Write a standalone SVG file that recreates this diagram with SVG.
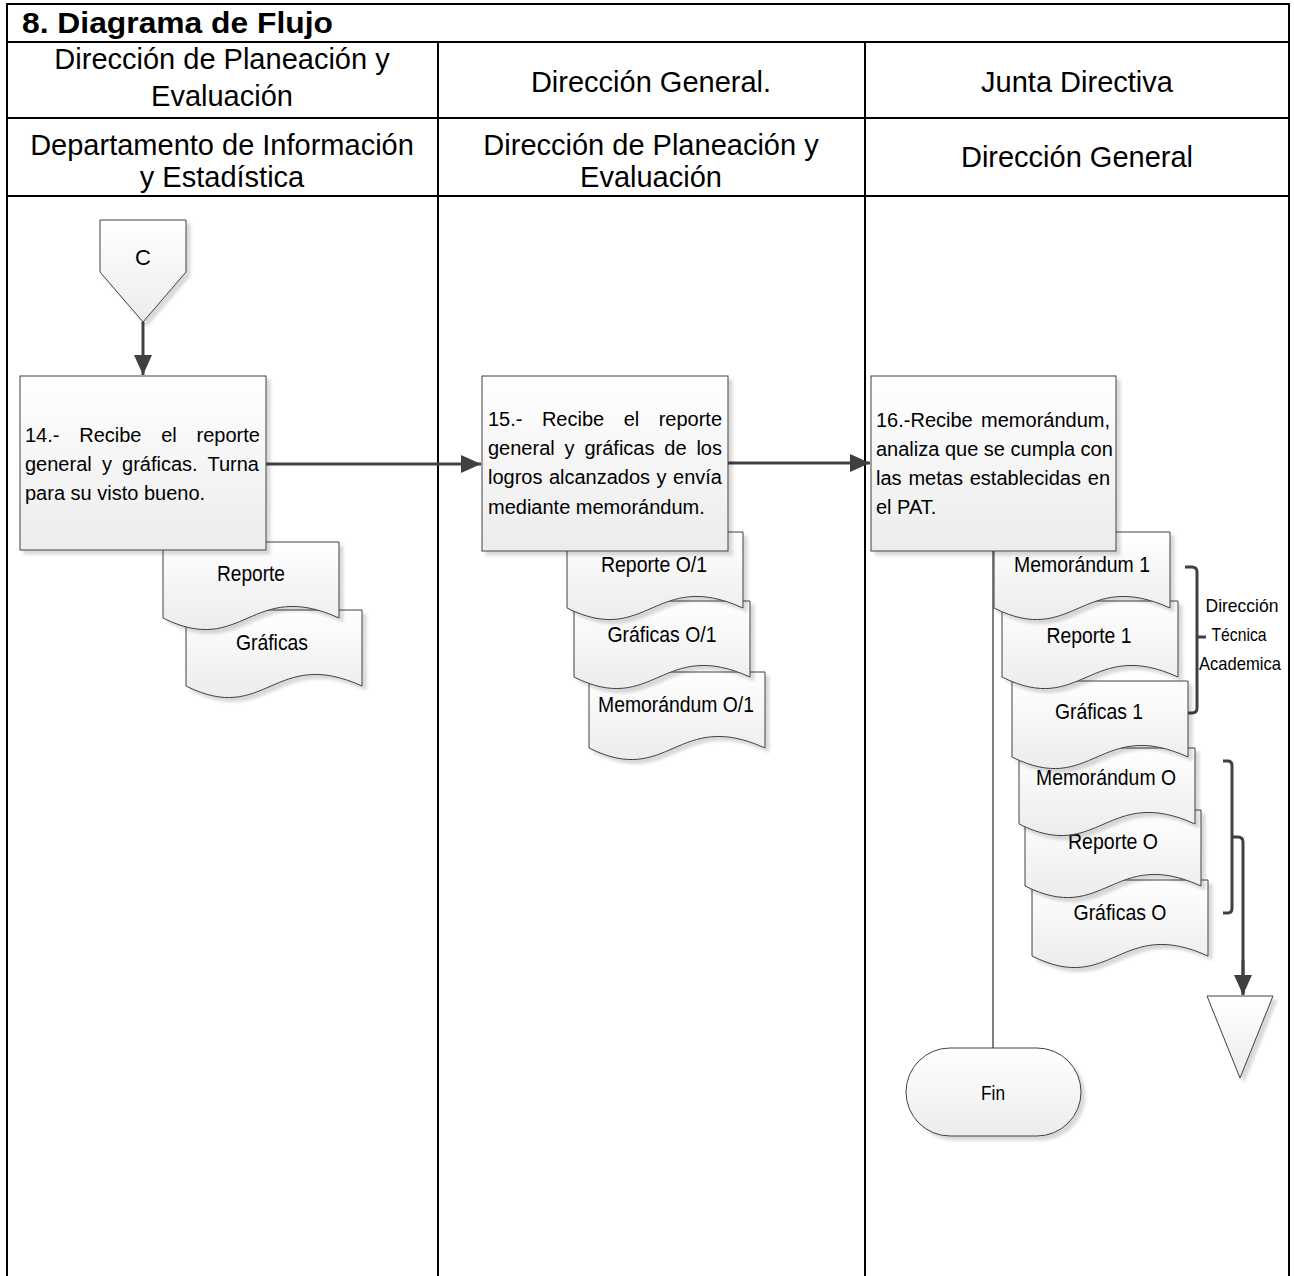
<svg xmlns="http://www.w3.org/2000/svg" xmlns:xlink="http://www.w3.org/1999/xlink" width="1294" height="1276" viewBox="0 0 1294 1276">
<style>
.frame{stroke:#000;stroke-width:2;fill:none}
.hdr{font-family:"Liberation Sans",Arial,sans-serif;font-size:29px;fill:#000;text-anchor:middle}
.title{font-family:"Liberation Sans",Arial,sans-serif;font-size:29px;font-weight:bold;fill:#000}
.shape{fill:url(#grad);stroke:#404040;stroke-width:1;filter:url(#shadow)}
.body{font-family:"Liberation Sans",Arial,sans-serif;font-size:20px;fill:#000}
.lbl{font-family:"Liberation Sans",Arial,sans-serif;font-size:21.5px;fill:#000;text-anchor:middle}
.cal{font-family:"Liberation Sans",Arial,sans-serif;font-size:19px;fill:#000;text-anchor:middle}
.conn{stroke:#404040;stroke-width:3;fill:none}
.thin{stroke:#000;stroke-width:1;fill:none}
.brace{stroke:#404040;stroke-width:3;fill:none;stroke-linejoin:round}
</style>
<defs>
<linearGradient id="grad" x1="0" y1="0" x2="0" y2="1">
<stop offset="0" stop-color="#ffffff"/>
<stop offset="1" stop-color="#ececec"/>
</linearGradient>
<filter id="shadow" x="-10%" y="-10%" width="130%" height="130%">
<feDropShadow dx="4" dy="4" stdDeviation="1.5" flood-color="#000" flood-opacity="0.15"/>
</filter>
<marker id="arr" markerUnits="userSpaceOnUse" markerWidth="20" markerHeight="18" refX="20" refY="9" orient="auto">
<path d="M0,0 L20,9 L0,18 Z" fill="#404040"/>
</marker>
<path id="doc" d="M0,0 H176 V76 C88,36 80,116 0,76 Z"/>
</defs>
<rect width="1294" height="1276" fill="#fff"/>
<g id="table">
<path class="frame" d="M7,1276 V4 H1289 V1276 M7,42 H1289 M7,118 H1289 M7,196 H1289 M438,42 V1276 M865,42 V1276"/>
<text class="title" x="22" y="33" textLength="311" lengthAdjust="spacingAndGlyphs">8. Diagrama de Flujo</text>
<text class="hdr" x="222" y="69">Dirección de Planeación y</text>
<text class="hdr" x="222" y="106">Evaluación</text>
<text class="hdr" x="651" y="92">Dirección General.</text>
<text class="hdr" x="1077" y="92">Junta Directiva</text>
<text class="hdr" x="222" y="155">Departamento de Información</text>
<text class="hdr" x="222" y="187">y Estadística</text>
<text class="hdr" x="651" y="155">Dirección de Planeación y</text>
<text class="hdr" x="651" y="187">Evaluación</text>
<text class="hdr" x="1077" y="167">Dirección General</text>
</g>
<g id="connectors">
<line class="conn" x1="143" y1="322" x2="143" y2="375" marker-end="url(#arr)"/>
<line class="conn" x1="266" y1="464" x2="481" y2="464" marker-end="url(#arr)"/>
<line class="conn" x1="728" y1="463" x2="870" y2="463" marker-end="url(#arr)"/>
<line class="thin" x1="993" y1="551" x2="993" y2="1048"/>
<path class="brace" d="M1185,567 H1192 Q1197,567 1197,572 V708 Q1197,713 1192,713 H1185 M1197,637 H1206"/>
<path class="brace" d="M1223,761 H1228 Q1232,761 1232,766 V908 Q1232,913 1228,913 H1223 M1232,837 H1238 Q1243,837 1243,842 V994"/>
<line class="conn" x1="1243" y1="960" x2="1243" y2="995" marker-end="url(#arr)"/>
</g>
<g id="node-c">
<path class="shape" d="M100,220 H186 V272 L143,322 L100,272 Z"/>
<text class="lbl" x="143" y="265" style="font-size:22px">C</text>
</g>
<g id="docs-14">
<use href="#doc" x="186" y="610" class="shape"/>
<text class="lbl" x="272" y="650" textLength="72" lengthAdjust="spacingAndGlyphs">Gráficas</text>
<use href="#doc" x="163" y="542" class="shape"/>
<text class="lbl" x="251" y="581" textLength="68" lengthAdjust="spacingAndGlyphs">Reporte</text>
</g>
<g id="node-14">
<rect class="shape" x="20" y="376" width="246" height="174"/>
<text class="body" x="25" y="442" style="word-spacing:14.2px">14.- Recibe el reporte</text>
<text class="body" x="25" y="471" style="word-spacing:4.6px">general y gráficas. Turna</text>
<text class="body" x="25" y="500">para su visto bueno.</text>
</g>
<g id="docs-15">
<use href="#doc" x="589" y="672" class="shape"/>
<text class="lbl" x="676" y="712" textLength="156" lengthAdjust="spacingAndGlyphs">Memorándum O/1</text>
<use href="#doc" x="574" y="601" class="shape"/>
<text class="lbl" x="662" y="642" textLength="109" lengthAdjust="spacingAndGlyphs">Gráficas O/1</text>
<use href="#doc" x="567" y="532" class="shape"/>
<text class="lbl" x="654" y="572" textLength="106" lengthAdjust="spacingAndGlyphs">Reporte O/1</text>
</g>
<g id="node-15">
<rect class="shape" x="482" y="376" width="246" height="175"/>
<text class="body" x="488" y="426" style="word-spacing:13.9px">15.- Recibe el reporte</text>
<text class="body" x="488" y="455" style="word-spacing:4.3px">general y gráficas de los</text>
<text class="body" x="488" y="484" style="word-spacing:0.9px">logros alcanzados y envía</text>
<text class="body" x="488" y="514">mediante memorándum.</text>
</g>
<g id="docs-16">
<use href="#doc" x="1032" y="880" class="shape"/>
<text class="lbl" x="1120" y="920" textLength="93" lengthAdjust="spacingAndGlyphs">Gráficas O</text>
<use href="#doc" x="1025" y="810" class="shape"/>
<text class="lbl" x="1113" y="849" textLength="90" lengthAdjust="spacingAndGlyphs">Reporte O</text>
<use href="#doc" x="1019" y="748" class="shape"/>
<text class="lbl" x="1106" y="785" textLength="140" lengthAdjust="spacingAndGlyphs">Memorándum O</text>
<use href="#doc" x="1012" y="681" class="shape"/>
<text class="lbl" x="1099" y="719" textLength="88" lengthAdjust="spacingAndGlyphs">Gráficas 1</text>
<use href="#doc" x="1002" y="601" class="shape"/>
<text class="lbl" x="1089" y="643" textLength="85" lengthAdjust="spacingAndGlyphs">Reporte 1</text>
<use href="#doc" x="994" y="532" class="shape"/>
<text class="lbl" x="1082" y="572" textLength="136" lengthAdjust="spacingAndGlyphs">Memorándum 1</text>
</g>
<g id="node-16">
<rect class="shape" x="871" y="376" width="245" height="175"/>
<text class="body" x="876" y="427" style="word-spacing:2.8px">16.-Recibe memorándum,</text>
<text class="body" x="876" y="456">analiza que se cumpla con</text>
<text class="body" x="876" y="485" style="word-spacing:1.3px">las metas establecidas en</text>
<text class="body" x="876" y="514">el PAT.</text>
</g>
<g id="label-dta">
<text class="cal" x="1242" y="612" textLength="73" lengthAdjust="spacingAndGlyphs">Dirección</text>
<text class="cal" x="1239" y="641" textLength="55" lengthAdjust="spacingAndGlyphs">Técnica</text>
<text class="cal" x="1240" y="670" textLength="82" lengthAdjust="spacingAndGlyphs">Academica</text>
</g>
<g id="node-offpage">
<path class="shape" d="M1207,996 H1273 L1240,1078 Z"/>
</g>
<g id="node-fin">
<rect class="shape" x="906" y="1048" width="175" height="88" rx="44" ry="44"/>
<text class="cal" x="993" y="1100" textLength="24" lengthAdjust="spacingAndGlyphs" style="font-size:21px">Fin</text>
</g>
</svg>
